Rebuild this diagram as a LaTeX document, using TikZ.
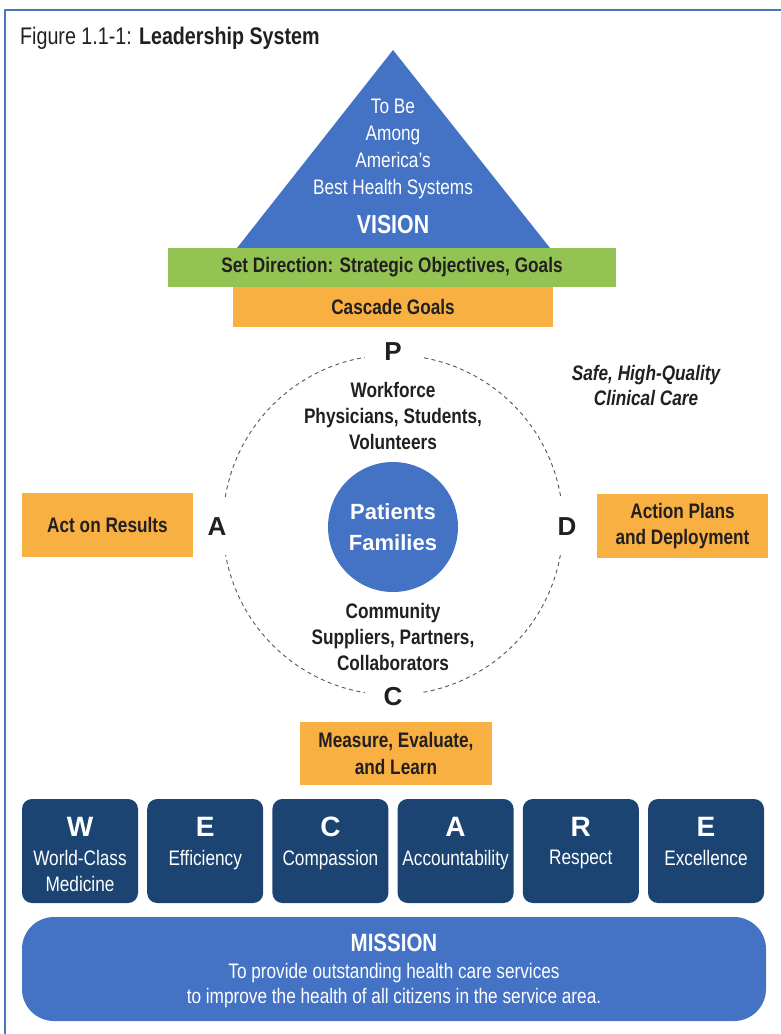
\documentclass[tikz,border=0pt]{standalone}
\usepackage{fontspec}
\setmainfont{Liberation Sans}[FakeStretch=0.82]
\newfontfamily\widefont{Liberation Sans}
\definecolor{visionblue}{HTML}{4472C4}
\definecolor{valuenavy}{HTML}{1B4473}
\definecolor{cascorange}{HTML}{F9B042}
\definecolor{dirgreen}{HTML}{92C353}
\definecolor{framecol}{HTML}{4A76C0}
\definecolor{inkdark}{HTML}{231F20}
\definecolor{ringgray}{HTML}{555555}
\newcommand{\txtsize}{\fontsize{21}{26}\selectfont}
\tikzset{
  plainbox/.style={inner sep=0pt, align=center, text=inkdark, font=\txtsize\bfseries},
  orangebox/.style={plainbox, fill=cascorange},
  greenbox/.style={plainbox, fill=dirgreen},
  ringtext/.style={inner sep=0pt, align=center, text=inkdark, font=\txtsize\bfseries},
  pdca/.style={fill=white, minimum size=56pt, inner sep=0pt, text=inkdark,
    font=\widefont\bfseries\fontsize{26}{26}\selectfont},
  valuebox/.style={fill=valuenavy, rounded corners=10pt, minimum width=116pt, minimum height=104pt},
  valueletter/.style={inner sep=0pt, text=white, font=\widefont\bfseries\fontsize{28}{28}\selectfont},
  valueword/.style={inner sep=0pt, align=center, text=white, font=\txtsize}
}
\begin{document}
\begin{tikzpicture}[x=1pt, y=-1pt, line join=round]
\useasboundingbox (0,0) rectangle (780,1034);
% frame and title
\draw[framecol, line width=2pt] (782,10) -- (5,10) -- (5,1036);
\node[anchor=base west, inner sep=0pt, text=inkdark, font=\fontsize{24}{28}\selectfont] (title) at (20,44) {Figure 1.1-1: \textbf{Leadership System}};
% PDCA ring
\draw[ringgray, line width=0.9pt, dash pattern=on 4pt off 3.5pt] (393,525) circle (170);
\node[pdca] (plan) at (393,352) {P};
\node[pdca] (act) at (217,527) {A};
\node[pdca] (do) at (567,527) {D};
\node[pdca] (check) at (393,697) {C};
\node[circle, fill=visionblue, minimum size=130pt, inner sep=0pt, align=center, text=white,
  font=\widefont\bfseries\fontsize{22}{31}\selectfont] (core) at (393,527) {Patients\\Families};
\node[ringtext, anchor=north] (workforce) at (393,382) {Workforce\\Physicians, Students,\\Volunteers};
\node[ringtext, anchor=north] (community) at (393,603) {Community\\Suppliers, Partners,\\Collaborators};
\node[inner sep=0pt, align=center, text=inkdark, font=\bfseries\itshape\fontsize{21}{25}\selectfont] (safety) at (646,385) {Safe, High-Quality\\Clinical Care};
% vision pyramid
\fill[visionblue] (237,248) -- (393,50) -- (550,248) -- cycle;
\node[inner sep=0pt, anchor=north, align=center, text=white, font=\fontsize{21}{27}\selectfont] (visiontext) at (393,99) {To Be\\Among\\America's\\Best Health Systems};
\node[inner sep=0pt, text=white, font=\bfseries\fontsize{26}{26}\selectfont] (vision) at (393,225) {VISION};
\node[greenbox, minimum width=448pt, minimum height=39pt] (direction) at (392,267.5) {Set Direction: Strategic Objectives, Goals};
\node[orangebox, minimum width=320pt, minimum height=40pt] (cascade) at (393,307) {Cascade Goals};
% process boxes
\node[orangebox, minimum width=171pt, minimum height=64pt] (results) at (107.5,525) {Act on Results};
\node[orangebox, minimum width=171pt, minimum height=64pt] (plans) at (682.5,526) {Action Plans\\and Deployment};
\node[orangebox, minimum width=192pt, minimum height=63pt, font=\fontsize{21}{27}\selectfont\bfseries] (measure) at (396,753.5) {Measure, Evaluate,\\and Learn};
% values
\foreach \i/\ch/\valword in {0/W/{World-Class\\Medicine},1/E/Efficiency,2/C/Compassion,3/A/Accountability,4/R/Respect,5/E/Excellence}{
  \node[valuebox] (value\i) at (80+125.2*\i,851) {};
  \node[valueletter] (letter\i) at (80+125.2*\i,827) {\ch};
  \node[valueword, anchor=north] (word\i) at (80+125.2*\i,850) {\valword};
}
% mission
\node[fill=visionblue, rounded corners=32pt, minimum width=744pt, minimum height=104pt] (mission) at (394,969) {};
\node[inner sep=0pt, text=white, font=\bfseries\fontsize{25}{25}\selectfont] (missionhead) at (394,943) {MISSION};
\node[inner sep=0pt, align=center, text=white, font=\fontsize{21}{25}\selectfont] (missiontext) at (394,985.5) {To provide outstanding health care services\\to improve the health of all citizens in the service area.};
\end{tikzpicture}
\end{document}
